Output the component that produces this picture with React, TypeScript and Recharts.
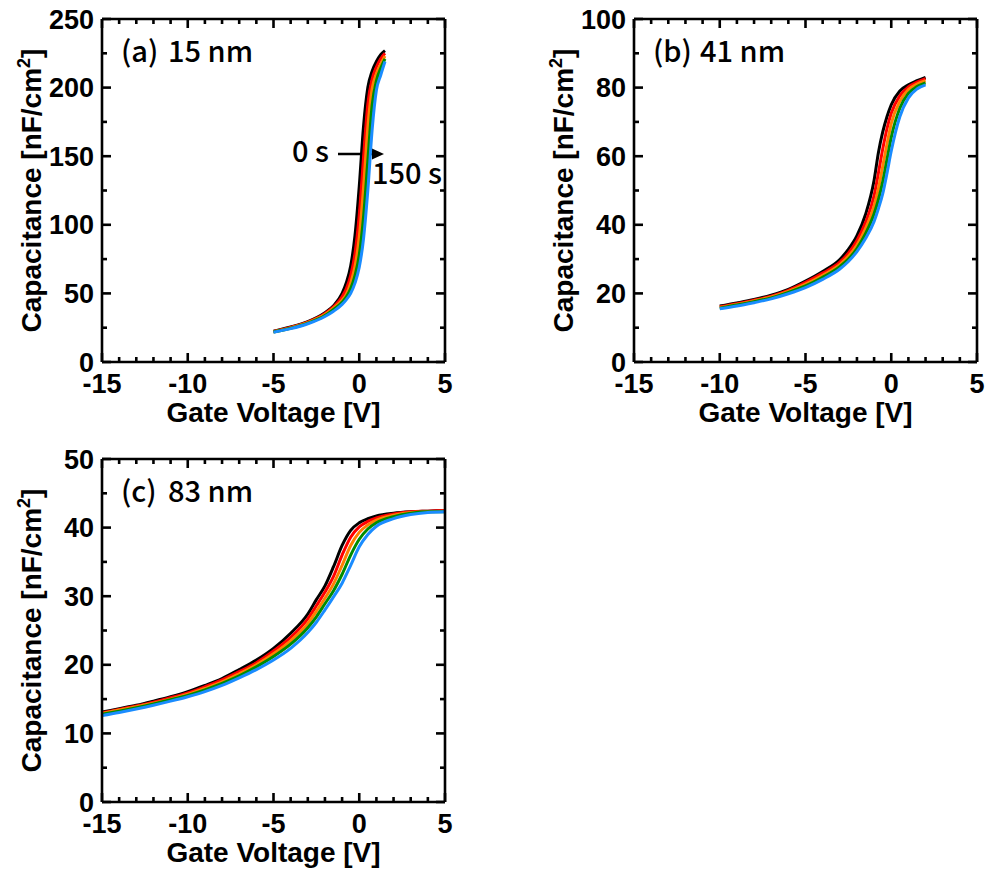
import React from 'react';
import { LineChart, Line, XAxis, YAxis, Customized } from 'recharts';

// ---------- data ----------
const seriesKeys = ['t0', 't1', 't2', 't3', 't4'];
const seriesColors = ['#000000', '#ff0000', '#ff8000', '#008c00', '#1a8cff'];

const xTickValues = [-15, -14, -13, -12, -11, -10, -9, -8, -7, -6, -5, -4, -3, -2, -1, 0, 1, 2, 3, 4, 5];
const xMajorTicks = [-15, -10, -5, 0, 5];

// (a) 15 nm
const voltageA = [-5, -4, -3, -2, -1.5, -1, -0.75, -0.5, -0.25, 0, 0.25, 0.5, 0.75, 1, 1.25, 1.5];
const capA0 = [22.5, 25.5, 29.5, 36, 41, 50, 58, 70, 92, 128, 172, 200, 212, 219, 224, 227];
const capA1 = [22.3, 25.2, 29.1, 35.3, 40.2, 47.5, 53.5, 63, 79, 107, 149, 188, 206, 215, 221, 225];
const capA2 = [22.1, 24.9, 28.7, 34.6, 39.3, 45, 49.5, 57.5, 69.5, 91, 127, 171, 199, 210, 217, 223];
const capA3 = [21.9, 24.6, 28.3, 33.9, 38.4, 43.5, 47.5, 53.5, 63, 78, 106, 147, 187, 205, 214, 221];
const capA4 = [21.7, 24.3, 27.9, 33.2, 37.0, 42, 45.5, 50, 57.5, 69, 90, 125, 169, 198, 209, 219];
const yTicksA = [0, 25, 50, 75, 100, 125, 150, 175, 200, 225, 250];
const yMajorA = [0, 50, 100, 150, 200, 250];

// (b) 41 nm
const voltageB = [-10, -9, -8, -7, -6, -5, -4, -3, -2.5, -2, -1.5, -1, -0.75, -0.5, -0.25, 0, 0.5, 1, 1.5, 2];
const capB0 = [16.3, 17.2, 18.2, 19.5, 21.2, 23.6, 26.4, 29.9, 32.8, 36.8, 43, 53, 61, 67, 71.5, 75, 79, 80.8, 82, 83];
const capB1 = [16.1, 17.0, 18.0, 19.2, 20.9, 23.2, 25.9, 29.1, 31.7, 35.4, 40.7, 48.5, 55, 62, 68, 72.5, 77.6, 80.2, 81.6, 82.6];
const capB2 = [15.9, 16.8, 17.8, 19.0, 20.6, 22.7, 25.3, 28.4, 30.8, 34.1, 38.9, 45.5, 50.5, 57, 63.5, 69.5, 76, 79.4, 81, 82];
const capB3 = [15.7, 16.6, 17.6, 18.7, 20.3, 22.2, 24.7, 27.8, 30.0, 33.1, 37.4, 43.2, 47.3, 52.5, 59, 65.5, 74, 78.3, 80.3, 81.4];
const capB4 = [15.5, 16.3, 17.3, 18.4, 19.9, 21.7, 24.1, 27.1, 29.3, 32.2, 36, 41, 44.7, 49, 55, 61.5, 71.5, 77, 79.6, 80.8];
const yTicksB = [0, 10, 20, 30, 40, 50, 60, 70, 80, 90, 100];
const yMajorB = [0, 20, 40, 60, 80, 100];

// (c) 83 nm
const voltageC = [-15, -14, -13, -12, -11, -10, -9, -8, -7, -6, -5, -4, -3, -2.5, -2, -1.5, -1, -0.5, 0, 0.5, 1, 2, 3, 4, 5];
const capC0 = [13.1, 13.6, 14.1, 14.7, 15.35, 16.1, 17, 18, 19.3, 20.7, 22.4, 24.6, 27.4, 29.5, 31.5, 34.3, 37.4, 39.6, 40.7, 41.3, 41.7, 42.1, 42.3, 42.4, 42.5];
const capC1 = [13.0, 13.5, 14.0, 14.55, 15.2, 15.9, 16.8, 17.8, 19.0, 20.3, 22.0, 24.0, 26.7, 28.6, 30.6, 32.9, 36, 38.6, 40.1, 40.9, 41.4, 42.0, 42.3, 42.4, 42.5];
const capC2 = [12.9, 13.4, 13.9, 14.4, 15.0, 15.7, 16.55, 17.5, 18.7, 20.0, 21.6, 23.5, 26.0, 27.8, 29.7, 31.8, 34.5, 37.4, 39.3, 40.4, 41.1, 41.8, 42.2, 42.3, 42.4];
const capC3 = [12.8, 13.25, 13.75, 14.3, 14.9, 15.55, 16.35, 17.3, 18.4, 19.7, 21.2, 23.0, 25.4, 27.0, 28.9, 30.8, 33.2, 36.0, 38.3, 39.8, 40.7, 41.6, 42.1, 42.3, 42.3];
const capC4 = [12.6, 13.05, 13.55, 14.1, 14.7, 15.35, 16.1, 17.0, 18.1, 19.3, 20.7, 22.4, 24.7, 26.2, 28.0, 29.9, 31.9, 34.5, 37.2, 39.0, 40.2, 41.3, 41.9, 42.2, 42.3];
const yTicksC = [0, 5, 10, 15, 20, 25, 30, 35, 40, 45, 50];
const yMajorC = [0, 10, 20, 30, 40, 50];

function buildRows(volts: number[], series: number[][]) {
  return volts.map((v, i) => {
    const row: any = { v };
    seriesKeys.forEach((k, j) => {
      row[k] = series[j][i];
    });
    return row;
  });
}

const rowsA = buildRows(voltageA, [capA0, capA1, capA2, capA3, capA4]);
const rowsB = buildRows(voltageB, [capB0, capB1, capB2, capB3, capB4]);
const rowsC = buildRows(voltageC, [capC0, capC1, capC2, capC3, capC4]);

// ---------- styling ----------
const TICK_FONT = "'Liberation Sans', Arial, sans-serif";
const NOTE_FONT = "'Noto Sans CJK JP', 'Noto Sans', sans-serif";
const AXIS_W = 2.6;
const MAJOR_LEN = 9;
const MINOR_LEN = 5;

const CHART_W = 455;
const CHART_H = 430;
const PLOT_L = 102;
const PLOT_T = 19;
const PLOT_SIZE = 343;

function makeTick(side: 'left' | 'right' | 'top' | 'bottom', majors: number[], showLabel: boolean) {
  return (props: any) => {
    const { x, y, payload } = props;
    const val = payload.value;
    const isMajor = majors.includes(val);
    const len = isMajor ? MAJOR_LEN : MINOR_LEN;
    let line: any = null;
    if (side === 'left') line = <line x1={x} y1={y} x2={x + len} y2={y} stroke="#000" strokeWidth={AXIS_W} />;
    if (side === 'right') line = <line x1={x} y1={y} x2={x - len} y2={y} stroke="#000" strokeWidth={AXIS_W} />;
    if (side === 'bottom') line = <line x1={x} y1={y} x2={x} y2={y - len} stroke="#000" strokeWidth={AXIS_W} />;
    if (side === 'top') line = <line x1={x} y1={y} x2={x} y2={y + len} stroke="#000" strokeWidth={AXIS_W} />;
    let label: any = null;
    if (showLabel && isMajor) {
      if (side === 'left') {
        label = (
          <text x={x - 8} y={y} dy={9.5} textAnchor="end" fontFamily={TICK_FONT} fontWeight="bold" fontSize={27} fill="#000">
            {val}
          </text>
        );
      } else if (side === 'bottom') {
        label = (
          <text x={x} y={y + 31} textAnchor="middle" fontFamily={TICK_FONT} fontWeight="bold" fontSize={27} fill="#000">
            {val}
          </text>
        );
      }
    }
    return (
      <g>
        {line}
        {label}
      </g>
    );
  };
}

function AxisTitles() {
  const cx = PLOT_L + PLOT_SIZE / 2;
  const cy = PLOT_T + PLOT_SIZE / 2;
  return (
    <g>
      <text x={cx} y={PLOT_T + PLOT_SIZE + 60} textAnchor="middle" fontFamily={TICK_FONT} fontWeight="bold" fontSize={28} fill="#000">
        Gate Voltage [V]
      </text>
      <text transform={`translate(${PLOT_L - 61},${cy}) rotate(-90)`} textAnchor="middle" fontFamily={TICK_FONT} fontWeight="bold" fontSize={28} fill="#000">
        Capacitance [nF/cm<tspan dy={-11} fontSize={18}>2</tspan><tspan dy={11}>]</tspan>
      </text>
    </g>
  );
}

function PanelTitle({ tag, label }: { tag: string; label: string }) {
  return (
    <g>
      <text x={PLOT_L + 19} y={PLOT_T + 43} fontFamily={NOTE_FONT} fontWeight={500} fontSize={29} fill="#000">
        {tag}
      </text>
      <text x={PLOT_L + 66} y={PLOT_T + 43} fontFamily={NOTE_FONT} fontWeight={500} fontSize={29} fill="#000">
        {label}
      </text>
    </g>
  );
}

function TimeArrow() {
  return (
    <g>
      <text x={292} y={162} fontFamily={NOTE_FONT} fontWeight={500} fontSize={29} fill="#000">0 s</text>
      <line x1={338} y1={154} x2={377} y2={154} stroke="#000" strokeWidth={2.6} />
      <polygon points="384,154 372,148.5 372,159.5" fill="#000" />
      <text x={372} y={184} fontFamily={NOTE_FONT} fontWeight={500} fontSize={29} fill="#000">150 s</text>
    </g>
  );
}

function Panel(props: {
  left: number;
  top: number;
  rows: any[];
  yTicks: number[];
  yMajor: number[];
  tag: string;
  label: string;
  extra?: any;
}) {
  const { left, top, rows, yTicks, yMajor, tag, label, extra } = props;
  const yMax = yTicks[yTicks.length - 1];
  return (
    <div style={{ position: 'absolute', left, top, width: CHART_W, height: CHART_H }}>
      <LineChart
        width={CHART_W}
        height={CHART_H}
        data={rows}
        margin={{
          top: PLOT_T - 1,
          left: PLOT_L - 1,
          right: CHART_W - PLOT_L - PLOT_SIZE - 1,
          bottom: CHART_H - PLOT_T - PLOT_SIZE - 1,
        }}
      >
        <XAxis
          xAxisId="bottom"
          dataKey="v"
          type="number"
          domain={[-15, 5]}
          ticks={xTickValues}
          interval={0}
          orientation="bottom"
          height={1}
          tickSize={0}
          tickMargin={0}
          tickLine={false}
          axisLine={{ stroke: '#000', strokeWidth: AXIS_W }}
          tick={makeTick('bottom', xMajorTicks, true)}
          allowDataOverflow
        />
        <XAxis
          xAxisId="top"
          dataKey="v"
          type="number"
          domain={[-15, 5]}
          ticks={xTickValues}
          interval={0}
          orientation="top"
          height={1}
          tickSize={0}
          tickMargin={0}
          tickLine={false}
          axisLine={{ stroke: '#000', strokeWidth: AXIS_W }}
          tick={makeTick('top', xMajorTicks, false)}
          allowDataOverflow
        />
        <YAxis
          yAxisId="left"
          type="number"
          domain={[0, yMax]}
          ticks={yTicks}
          interval={0}
          orientation="left"
          width={1}
          tickSize={0}
          tickMargin={0}
          tickLine={false}
          axisLine={{ stroke: '#000', strokeWidth: AXIS_W }}
          tick={makeTick('left', yMajor, true)}
          allowDataOverflow
        />
        <YAxis
          yAxisId="right"
          type="number"
          domain={[0, yMax]}
          ticks={yTicks}
          interval={0}
          orientation="right"
          width={1}
          tickSize={0}
          tickMargin={0}
          tickLine={false}
          axisLine={{ stroke: '#000', strokeWidth: AXIS_W }}
          tick={makeTick('right', yMajor, false)}
          allowDataOverflow
        />
        <Line
          xAxisId="top"
          yAxisId="right"
          dataKey="t0"
          stroke="none"
          dot={false}
          activeDot={false}
          isAnimationActive={false}
          legendType="none"
        />
        {seriesKeys.map((k, i) => (
          <Line
            key={k}
            xAxisId="bottom"
            yAxisId="left"
            dataKey={k}
            type="monotone"
            stroke={seriesColors[i]}
            strokeWidth={3}
            dot={false}
            activeDot={false}
            isAnimationActive={false}
          />
        ))}
        <Customized component={<AxisTitles />} />
        <Customized component={<PanelTitle tag={tag} label={label} />} />
        {extra ? <Customized component={extra} /> : null}
      </LineChart>
    </div>
  );
}

export default function App() {
  return (
    <div style={{ position: 'absolute', left: 0, top: 0, width: 989, height: 872, background: '#fff', overflow: 'hidden' }}>
      <Panel left={0} top={0} rows={rowsA} yTicks={yTicksA} yMajor={yMajorA} tag="(a)" label="15 nm" extra={<TimeArrow />} />
      <Panel left={532} top={0} rows={rowsB} yTicks={yTicksB} yMajor={yMajorB} tag="(b)" label="41 nm" />
      <Panel left={0} top={440} rows={rowsC} yTicks={yTicksC} yMajor={yMajorC} tag="(c)" label="83 nm" />
    </div>
  );
}
